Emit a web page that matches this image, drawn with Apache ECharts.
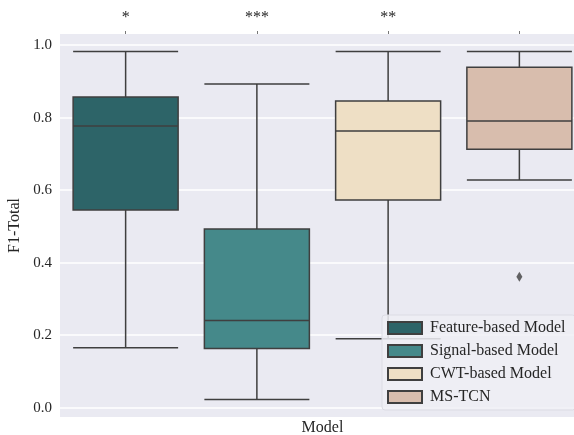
<!DOCTYPE html>
<html>
<head>
<meta charset="utf-8">
<script src="https://cdn.jsdelivr.net/npm/echarts@6/dist/echarts.min.js"></script>
<style>
html,body{margin:0;padding:0;background:#fff;}
#chart{width:574px;height:435px;}
</style>
</head>
<body>
<div id="chart"></div>
<script>
// ---- data ----
const models = ['Feature-based Model', 'Signal-based Model', 'CWT-based Model', 'MS-TCN'];
const significance = ['*', '***', '**', ''];
// [lower whisker, Q1, median, Q3, upper whisker]
const featureBox = [0.165, 0.545, 0.777, 0.857, 0.983];
const signalBox  = [0.022, 0.163, 0.240, 0.493, 0.893];
const cwtBox     = [0.190, 0.573, 0.763, 0.846, 0.983];
const mstcnBox   = [0.628, 0.713, 0.791, 0.939, 0.983];
const outliers = [[3, 0.361]]; // [model index, value]
const yTicks = [0.0, 0.2, 0.4, 0.6, 0.8, 1.0];
const colors = ['#2D6468', '#45898A', '#EEDFC5', '#D8BDAD'];

const boxes = [featureBox, signalBox, cwtBox, mstcnBox];
const lineColor = '#3F3F3F';
const font = '"Liberation Serif", "DejaVu Serif", serif';

const chart = echarts.init(document.getElementById('chart'), null, {renderer: 'canvas'});

const boxData = boxes.map((b, i) => ({
  value: b,
  itemStyle: {color: colors[i], borderColor: lineColor, borderWidth: 1.5}
}));

const legendSeries = models.map((m, i) => ({
  name: m,
  type: 'bar',
  data: [],
  itemStyle: {color: colors[i], borderColor: lineColor, borderWidth: 1}
}));

chart.setOption({
  animation: false,
  backgroundColor: '#ffffff',
  textStyle: {fontFamily: font},
  grid: {
    left: 60, top: 34, width: 525, height: 383,
    backgroundColor: '#EAEAF2', show: true, borderWidth: 0,
    containLabel: false, outerBoundsMode: 'none'
  },
  xAxis: [{
    type: 'category',
    data: models,
    boundaryGap: true,
    axisLine: {show: false},
    axisTick: {show: false},
    axisLabel: {show: false},
    name: 'Model',
    nameLocation: 'middle',
    nameGap: 3,
    nameTextStyle: {fontFamily: font, fontSize: 16, color: '#262626'}
  }, {
    type: 'category',
    data: significance,
    position: 'top',
    boundaryGap: true,
    axisLine: {show: false},
    axisTick: {show: true, alignWithLabel: true, length: 3, lineStyle: {color: '#777', width: 1}},
    axisLabel: {fontFamily: font, fontSize: 16, color: '#262626', margin: 8}
  }],
  yAxis: {
    type: 'value',
    min: -0.026,
    max: 1.031,
    axisLine: {show: false},
    axisTick: {show: false, customValues: yTicks},
    axisLabel: {
      fontFamily: font, fontSize: 15, color: '#262626', margin: 8,
      customValues: yTicks,
      formatter: v => v.toFixed(1)
    },
    splitLine: {show: true, lineStyle: {color: '#ffffff', width: 1.5}},
    name: 'F1-Total',
    nameLocation: 'middle',
    nameGap: 30,
    nameRotate: 90,
    nameTextStyle: {fontFamily: font, fontSize: 16, color: '#262626'}
  },
  legend: {
    data: models,
    orient: 'vertical',
    left: 382,
    top: 315,
    padding: [5, 10, 5, 5],
    itemWidth: 34,
    itemHeight: 12,
    itemGap: 7,
    backgroundColor: 'rgba(238,238,244,0.85)',
    borderColor: '#dcdce4',
    borderWidth: 1,
    borderRadius: 3,
    icon: 'rect',
    textStyle: {fontFamily: font, fontSize: 16, color: '#262626', padding: [0, 0, 0, 3]}
  },
  series: [{
    type: 'boxplot',
    xAxisIndex: 0,
    data: boxData,
    boxWidth: [105, 105],
    itemStyle: {borderColor: lineColor, borderWidth: 1.5},
    emphasis: {disabled: true},
    z: 3
  }, {
    type: 'scatter',
    xAxisIndex: 0,
    data: outliers.map(o => [models[o[0]], o[1]]),
    symbol: 'diamond',
    symbolSize: [6, 10],
    itemStyle: {color: lineColor},
    z: 4
  }].concat(legendSeries)
});
</script>
</body>
</html>
